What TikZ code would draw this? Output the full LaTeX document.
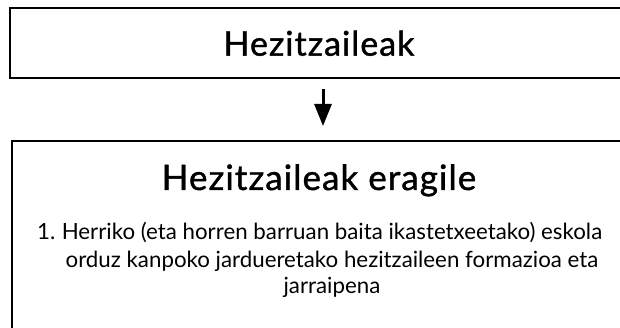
\documentclass[tikz,border=0pt]{standalone}
\usepackage{fontspec}
\setmainfont{Lato}
\newfontfamily\titlefont[LetterSpace=3,FakeBold=1.2]{Lato}
\usetikzlibrary{arrows.meta}
\tikzset{
  box/.style={draw=black, line width=2pt, rectangle, inner sep=0pt},
  ttl/.style={font=\titlefont\fontsize{34}{40}\selectfont},
  ttltwo/.style={font=\titlefont\fontsize{35}{42}\selectfont, anchor=base},
  body/.style={font=\fontsize{22.3}{27}\selectfont, anchor=base, inner sep=0pt},
  arr/.style={line width=3pt, -{Triangle[width=17pt,length=22pt]}}
}
\begin{document}
\begin{tikzpicture}[x=1pt,y=-1pt]
\useasboundingbox (0,0) rectangle (620,328);
\clip (0,0) rectangle (620,328);
\node[box, ttl, minimum width=618pt, minimum height=69.5pt] (top) at (319,43.25) {Hezitzaileak};
\node[box, minimum width=614pt, minimum height=198.5pt] (bot) at (319,240.75) {};
\node[ttltwo] (t2) at (319,190) {Hezitzaileak eragile};
\node[body, anchor=base west] (num) at (37,240) {1.};
\node[body] (l1) at (332,240) {Herriko (eta horren barruan baita ikastetxeetako) eskola};
\node[body] (l2) at (332,267) {orduz kanpoko jardueretako hezitzaileen formazioa eta};
\node[body] (l3) at (332,293) {jarraipena};
\draw[arr] ([xshift=4pt,yshift=-10pt]top.south) -- ([xshift=4pt,yshift=14.5pt]bot.north);
\end{tikzpicture}
\end{document}
